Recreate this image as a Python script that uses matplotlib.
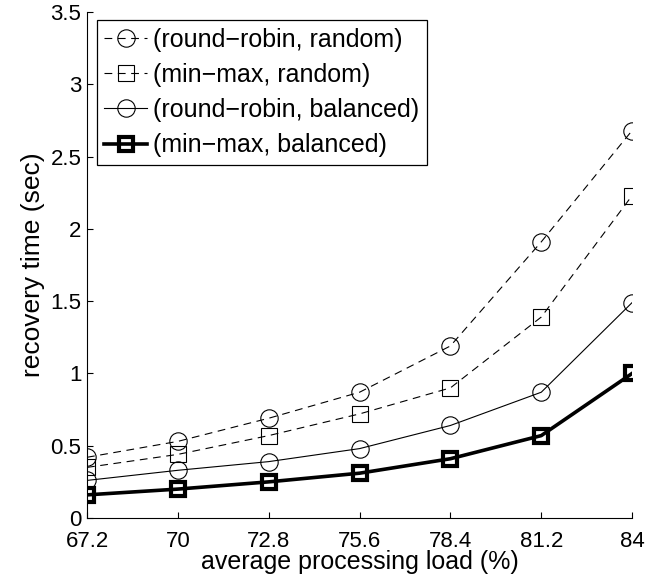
import matplotlib
matplotlib.use("Agg")
import matplotlib.pyplot as plt

plt.rcParams['font.family'] = ['Liberation Sans', 'DejaVu Sans']

load = [67.2, 70, 72.8, 75.6, 78.4, 81.2, 84]
rr_random = [0.42, 0.53, 0.69, 0.87, 1.19, 1.91, 2.68]
mm_random = [0.35, 0.44, 0.57, 0.72, 0.90, 1.39, 2.23]
rr_balanced = [0.26, 0.33, 0.39, 0.48, 0.64, 0.87, 1.49]
mm_balanced = [0.16, 0.20, 0.25, 0.31, 0.41, 0.57, 1.00]
labels = ['(round\u2212robin, random)', '(min\u2212max, random)',
          '(round\u2212robin, balanced)', '(min\u2212max, balanced)']
xticklabels = ['67.2', '70', '72.8', '75.6', '78.4', '81.2', '84']
yticks = [0, 0.5, 1, 1.5, 2, 2.5, 3, 3.5]
yticklabels = ['0', '0.5', '1', '1.5', '2', '2.5', '3', '3.5']

fig = plt.figure(figsize=(6.47, 5.84), dpi=100)
ax = fig.add_axes([0.1345, 0.113, 0.8425, 0.8665])

ax.plot(load, rr_random, 'k--', marker='o', ms=12.5, mfc='none', mew=0.8,
        lw=0.8, dashes=(7, 5), label=labels[0])
ax.plot(load, mm_random, 'k--', marker='s', ms=11.5, mfc='none', mew=0.8,
        lw=0.8, dashes=(7, 5), label=labels[1])
ax.plot(load, rr_balanced, 'k-', marker='o', ms=12.5, mfc='none', mew=0.8,
        lw=0.8, label=labels[2])
ax.plot(load, mm_balanced, 'k-', marker='s', ms=10, mfc='none', mew=3,
        lw=2.6, label=labels[3])

ax.set_xlim(67.2, 84)
ax.set_ylim(0, 3.5)
ax.set_xticks(load)
ax.set_xticklabels(xticklabels)
ax.set_yticks(yticks)
ax.set_yticklabels(yticklabels)
for s in ['top', 'right']:
    ax.spines[s].set_visible(False)
for s in ['left', 'bottom']:
    ax.spines[s].set_linewidth(0.8)
ax.tick_params(direction='in', length=4, width=0.8, labelsize=16)
ax.tick_params(axis='x', pad=9)
ax.tick_params(axis='y', pad=4)
ax.set_xlabel('average processing load (%)', fontsize=18, labelpad=-1)
ax.set_ylabel('recovery time (sec)', fontsize=19, labelpad=4)

leg = ax.legend(loc='upper left', bbox_to_anchor=(0.018, 0.984), fontsize=18,
                handlelength=1.7, handletextpad=0.25, borderpad=0.3,
                labelspacing=0.45, borderaxespad=0, fancybox=False,
                framealpha=1, edgecolor='black')
leg.get_frame().set_linewidth(0.9)

fig.savefig('out.png', dpi=100)
